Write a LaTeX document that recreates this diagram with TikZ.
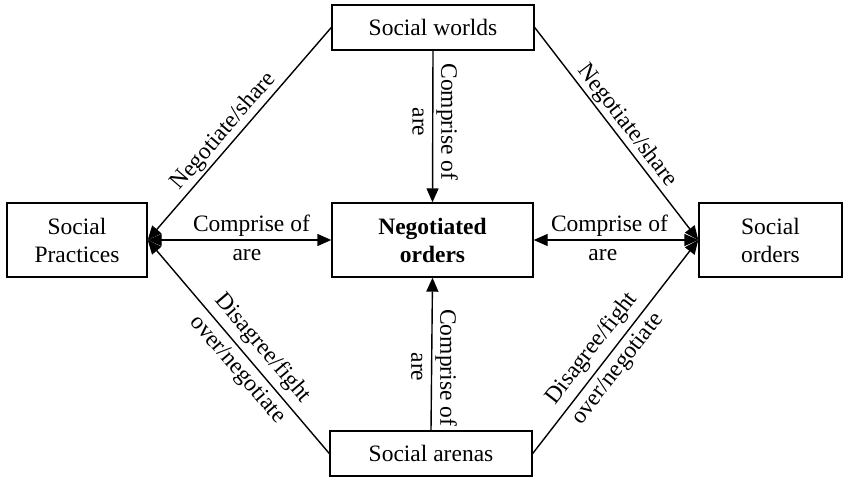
\documentclass[tikz,border=0pt]{standalone}
\usepackage{fontspec}
\setmainfont{Liberation Serif}
\usetikzlibrary{arrows.meta}
\begin{document}
\begin{tikzpicture}[x=1pt,y=-1pt,
  every node/.style={font=\fontsize{23.5}{28}\selectfont},
  box/.style={draw, line width=1.4pt, inner sep=0pt, align=center},
  conn/.style={line width=1.4pt, -{Triangle[length=14pt,width=12pt]}},
  both/.style={line width=1.4pt, {Triangle[length=14pt,width=12pt]}-{Triangle[length=14pt,width=12pt]}},
  lab/.style={text height=17.5pt, text depth=6pt, inner sep=2pt}
]
\useasboundingbox (0,0) rectangle (844,478);

\node[box, minimum width=202pt, minimum height=45pt] (worlds) at (433,27.5) {Social worlds};
\node[box, minimum width=140pt, minimum height=74pt] (prac) at (77,240) {Social\\Practices};
\node[box, minimum width=201pt, minimum height=74pt, font=\fontsize{23.5}{28}\selectfont\bfseries] (neg) at (432.5,240) {Negotiated\\orders};
\node[box, minimum width=143pt, minimum height=74pt] (ord) at (770.5,240) {Social\\orders};
\node[box, minimum width=202pt, minimum height=45pt] (arenas) at (431,453.5) {Social arenas};

\draw[conn] (worlds.west) -- node[lab, sloped, above, pos=0.53, inner sep=1pt]{Negotiate/share} (prac.east);
\draw[conn] (worlds.east) -- node[lab, sloped, above, pos=0.5, inner sep=1pt]{Negotiate/share} (ord.west);
\draw[conn] (arenas.west) -- node[lab, sloped, above, pos=0.44, inner sep=5pt]{Disagree/fight} node[lab, sloped, below, pos=0.44, inner sep=3pt]{over/negotiate} (prac.east);
\draw[conn] (arenas.east) -- node[lab, sloped, above, pos=0.44, inner sep=5pt]{Disagree/fight} node[lab, sloped, below, pos=0.44, inner sep=3pt]{over/negotiate} (ord.west);

\draw[both] (prac.east) -- node[lab, above, pos=0.565]{Comprise of} node[lab, below, pos=0.54]{are} (neg.west);
\draw[both] (neg.east) -- node[lab, above, pos=0.46]{Comprise of} node[lab, below, pos=0.42]{are} (ord.west);

\draw[conn] (worlds.south) -- node[lab, rotate=-90, anchor=south, pos=0.47]{Comprise of} node[lab, rotate=-90, anchor=north, pos=0.47]{are} (neg.north);
\draw[conn] (arenas.north) -- node[lab, rotate=-90, anchor=south, pos=0.41]{Comprise of} node[lab, rotate=-90, anchor=north, pos=0.415]{are} (neg.south);
\end{tikzpicture}
\end{document}
